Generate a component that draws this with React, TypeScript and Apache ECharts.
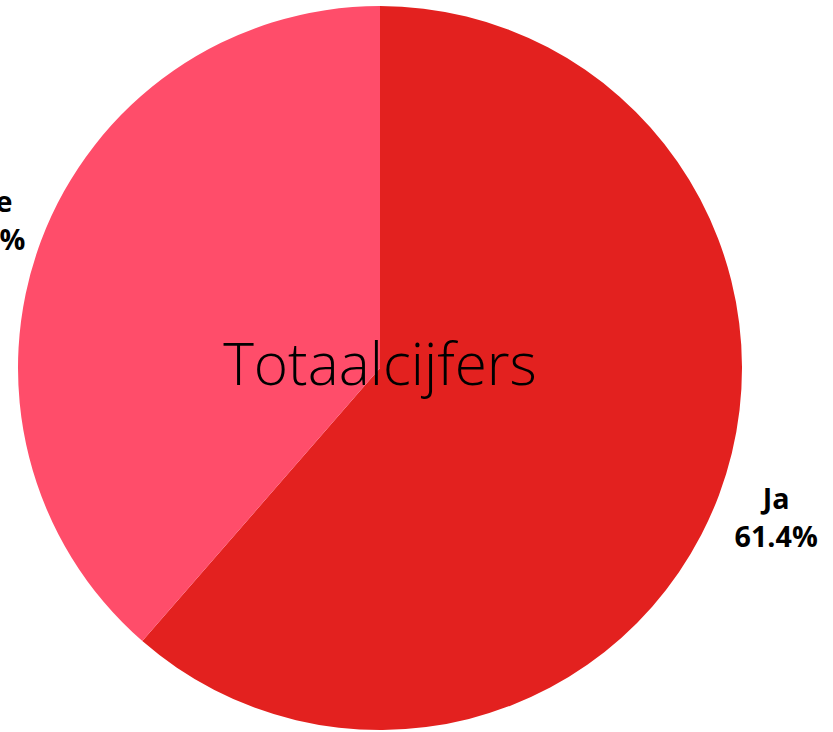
import React, { useEffect, useRef } from "react";
import * as echarts from "echarts";

const categories = ["Ja", "Nee"];
const values = [61.4, 38.6];
const colors = ["#E3211F", "#FF4D6A"];
const centerTitle = "Totaalcijfers";

export default function App() {
  const ref = useRef<HTMLDivElement>(null);
  useEffect(() => {
    if (!ref.current) return;
    const chart = echarts.init(ref.current, null, { renderer: "svg" });
    const data = categories.map((c, i) => ({ name: c, value: values[i], itemStyle: { color: colors[i] } }));
    chart.setOption({
      animation: false,
      graphic: [
        {
          type: "text",
          x: 380,
          y: 362,
          z: 100,
          style: {
            text: centerTitle,
            fontFamily: "Open Sans",
            fontWeight: 300,
            fontSize: 58.5,
            fill: "#000",
            textAlign: "center",
            textVerticalAlign: "middle",
          },
        },
      ],
      series: [
        {
          type: "pie",
          center: [380, 368],
          radius: 362,
          startAngle: 90,
          clockwise: true,
          silent: true,
          label: { show: false },
          labelLine: { show: false },
          data,
        },
        {
          type: "pie",
          center: [380, 368],
          radius: [362, 478],
          startAngle: 90,
          clockwise: true,
          silent: true,
          percentPrecision: 1,
          itemStyle: { color: "rgba(0,0,0,0)" },
          label: {
            show: true,
            position: "inside",
            formatter: "{b}\n{d}%",
            fontFamily: "Open Sans",
            fontWeight: "bold",
            fontSize: 28.7,
            lineHeight: 38,
            color: "#000",
            align: "center",
          },
          labelLine: { show: false },
          data: categories.map((c, i) => ({ name: c, value: values[i], itemStyle: { color: "rgba(0,0,0,0)" } })),
        },
      ],
    });
    return () => chart.dispose();
  }, []);
  return (
    <div
      ref={ref}
      style={{ position: "fixed", left: 0, top: 0, width: 833, height: 732, background: "#fff" }}
    />
  );
}
